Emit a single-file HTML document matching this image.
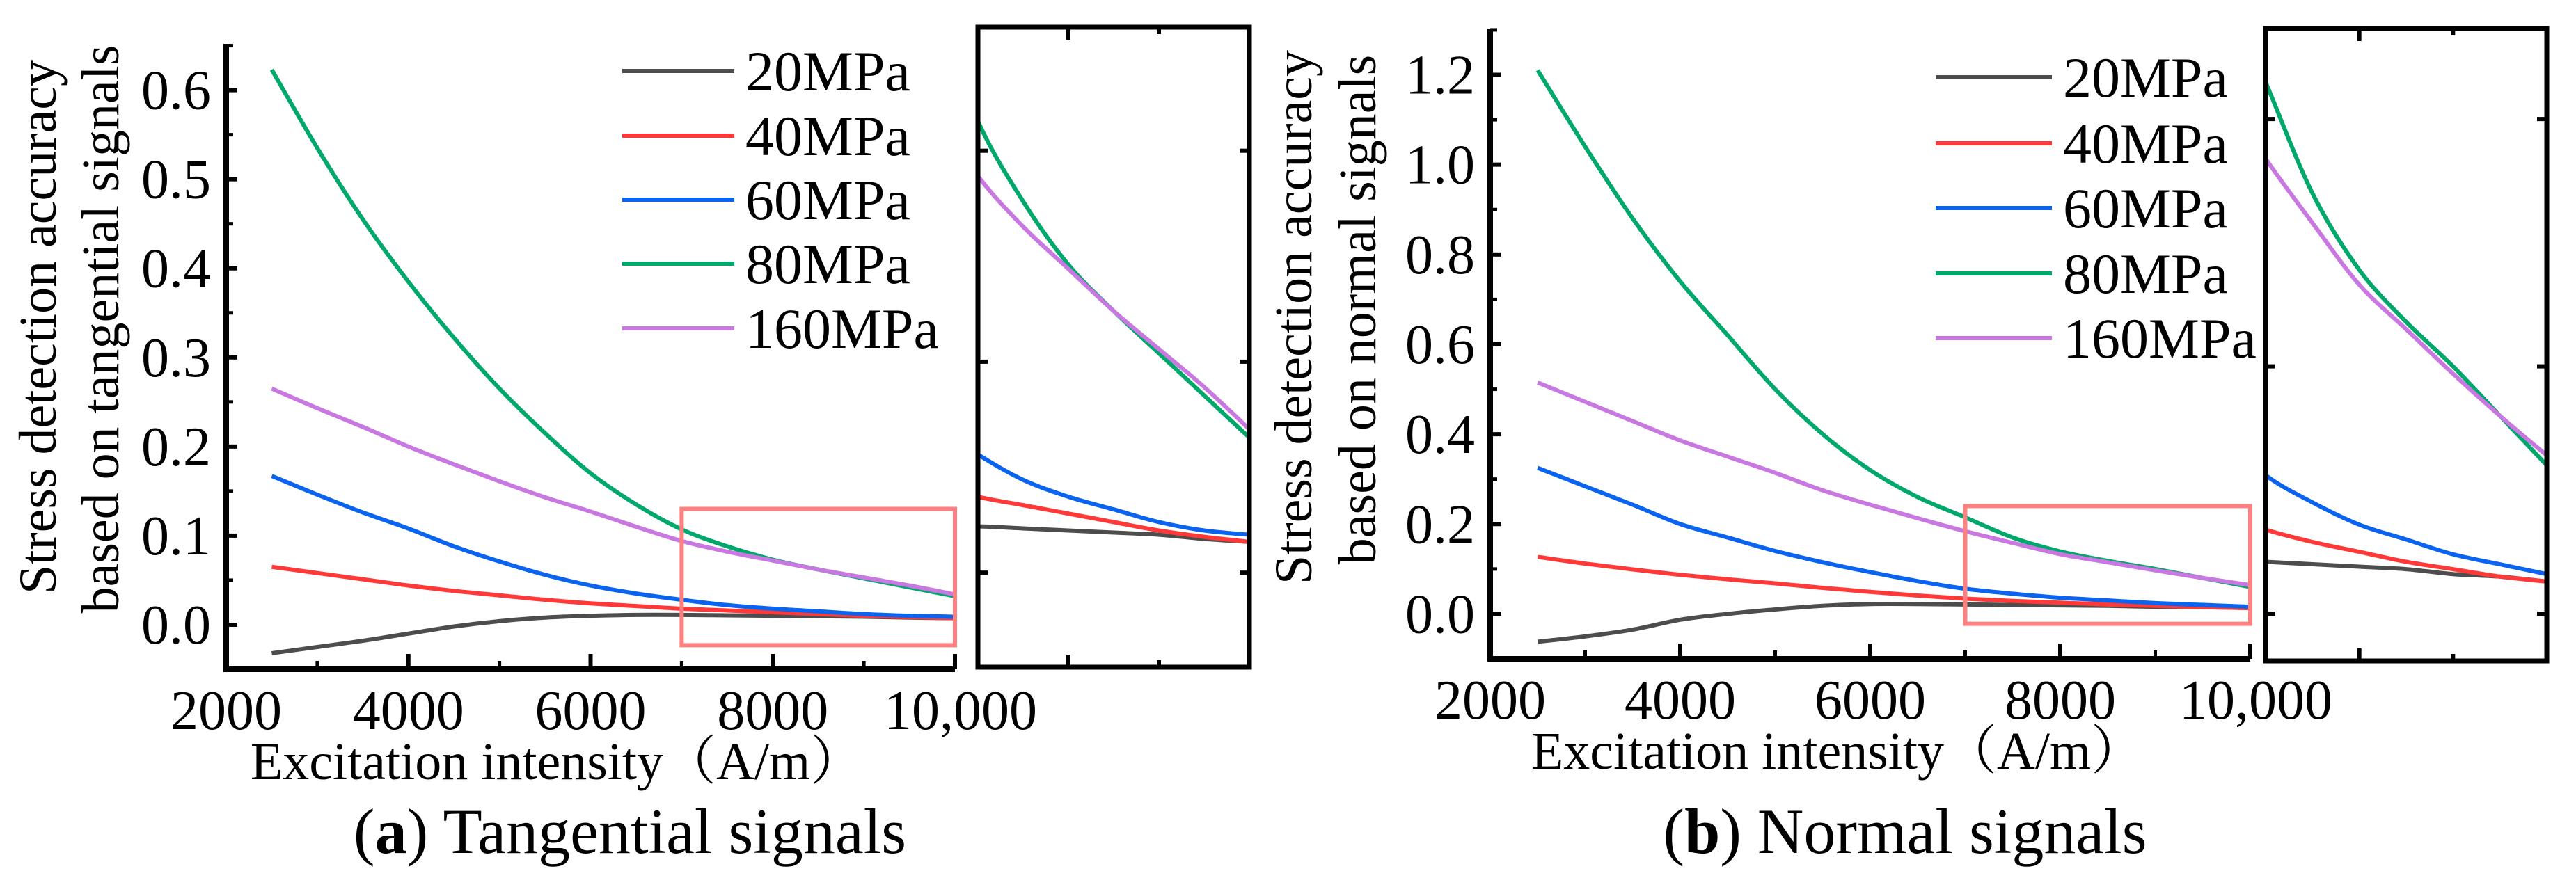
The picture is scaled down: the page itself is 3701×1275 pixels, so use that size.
<!DOCTYPE html>
<html><head><meta charset="utf-8"><style>
html,body{margin:0;padding:0;background:#fff}
svg{display:block}
text{font-family:"Liberation Serif","Noto Serif CJK SC",serif;fill:#000}
</style></head><body>
<svg id="fig" width="3701" height="1275" viewBox="0 0 3701 1275" xmlns="http://www.w3.org/2000/svg" font-family="'Liberation Serif','Noto Serif CJK SC',serif">
<defs>
<clipPath id="clipA"><rect x="1405" y="39" width="390" height="920"/></clipPath>
<clipPath id="clipB"><rect x="3255" y="41" width="404" height="909"/></clipPath>
</defs>
<g id="root"></g>
</svg>
<script>
const xValues = [2500,3000,3500,4000,4500,5000,5500,6000,6500,7000,7500,8000,8500,9000,9500,10000];
const seriesNames = ["20MPa","40MPa","60MPa","80MPa","160MPa"];
const seriesColors = ["#4d4d4d","#ff3838","#0a64f0","#00a86b","#c878e0"];
// Tangential (a)
const tan20 = [-0.032,-0.025,-0.018,-0.010,-0.002,0.004,0.008,0.010,0.011,0.011,0.0105,0.010,0.0095,0.009,0.008,0.0073];
const tan40 = [0.065,0.058,0.051,0.044,0.038,0.033,0.028,0.024,0.021,0.018,0.016,0.014,0.012,0.010,0.0085,0.0073];
const tan60 = [0.167,0.146,0.126,0.108,0.088,0.071,0.056,0.044,0.035,0.028,0.022,0.018,0.015,0.012,0.010,0.009];
const tan80 = [0.623,0.535,0.455,0.385,0.322,0.265,0.215,0.170,0.135,0.107,0.088,0.073,0.062,0.052,0.042,0.032];
const tan160 = [0.265,0.243,0.222,0.200,0.180,0.161,0.143,0.127,0.110,0.094,0.082,0.072,0.062,0.053,0.044,0.034];
// Normal (b)
const nor20 = [-0.062,-0.050,-0.035,-0.013,0.000,0.010,0.018,0.022,0.022,0.021,0.020,0.019,0.018,0.016,0.015,0.013];
const nor40 = [0.127,0.112,0.099,0.087,0.077,0.068,0.058,0.049,0.041,0.034,0.029,0.025,0.021,0.018,0.015,0.013];
const nor60 = [0.325,0.284,0.243,0.200,0.170,0.140,0.115,0.093,0.073,0.056,0.045,0.036,0.030,0.024,0.020,0.016];
const nor80 = [1.21,1.04,0.88,0.74,0.62,0.50,0.40,0.32,0.26,0.215,0.17,0.139,0.118,0.10,0.08,0.06];
const nor160 = [0.515,0.472,0.429,0.386,0.350,0.314,0.275,0.243,0.213,0.184,0.158,0.133,0.115,0.097,0.080,0.064];
const xTicks = [2000,4000,6000,8000,10000];
const xTickLabels = ["2000","4000","6000","8000","10,000"];
const yTicksA = [0,0.1,0.2,0.3,0.4,0.5,0.6];
const yTickLabelsA = ["0.0","0.1","0.2","0.3","0.4","0.5","0.6"];
const yTicksB = [0,0.2,0.4,0.6,0.8,1.0,1.2];
const yTickLabelsB = ["0.0","0.2","0.4","0.6","0.8","1.0","1.2"];

const NS="http://www.w3.org/2000/svg";
const FONT="'Liberation Serif','Noto Serif CJK SC',serif";
const root=document.getElementById('root');
function mk(tag,attrs,parent){const e=document.createElementNS(NS,tag);for(const k in attrs)e.setAttribute(k,attrs[k]);if(tag==='text')e.setAttribute('font-family',FONT);(parent||root).appendChild(e);return e;}
function lin(d0,d1,r0,r1){return v=>r0+(v-d0)*(r1-r0)/(d1-d0);}
function smoothPath(pts){let d=`M${pts[0][0]},${pts[0][1]}`;for(let i=0;i<pts.length-1;i++){const p0=pts[Math.max(0,i-1)],p1=pts[i],p2=pts[i+1],p3=pts[Math.min(pts.length-1,i+2)];const c1=[p1[0]+(p2[0]-p0[0])/6,p1[1]+(p2[1]-p0[1])/6],c2=[p2[0]-(p3[0]-p1[0])/6,p2[1]-(p3[1]-p1[1])/6];d+=` C${c1[0]},${c1[1]} ${c2[0]},${c2[1]} ${p2[0]},${p2[1]}`;}return d;}

function drawSeries(g,sx,sy,data,i,clip){
  const pts=xValues.map((x,k)=>[sx(x),sy(data[k])]);
  const p=mk('path',{d:smoothPath(pts),fill:'none',stroke:seriesColors[i],'stroke-width':6,'stroke-linejoin':'round'},g);
  if(clip)p.setAttribute('clip-path',clip);
  
  
}

function panel(c){
  const g=mk('g',{});
  
  
  const sx=lin(2000,10000,c.L,c.R), sy=lin(c.y0,c.y1,c.B,c.T);
  c.data.forEach((d,i)=>drawSeries(g,sx,sy,d,i,null));
  const zb=mk('rect',{x:sx(7000),y:sy(c.boxTop),width:sx(10000)-sx(7000),height:sy(c.boxBot)-sy(c.boxTop),fill:'none',stroke:'#ff8080','stroke-width':6},g);
  
  
  const ya=mk('line',{x1:c.L,y1:c.T,x2:c.L,y2:c.B+4,stroke:'#000','stroke-width':8},g);
  
  
  const xa=mk('line',{x1:c.L-4,y1:c.B,x2:c.R,y2:c.B,stroke:'#000','stroke-width':8},g);
  
  
  c.yTicks.forEach((v,k)=>{
    mk('line',{x1:c.L,y1:sy(v),x2:c.L+16,y2:sy(v),stroke:'#000','stroke-width':6},g);
    const t=mk('text',{x:c.L-22,y:sy(v)+27,'font-size':80,'text-anchor':'end'},g);
    t.textContent=c.yLabels[k];
    
    
  });
  for(let v=c.y0+c.minor;v<c.y1;v+=c.minor){mk('line',{x1:c.L,y1:sy(v),x2:c.L+10,y2:sy(v),stroke:'#000','stroke-width':5},g);}
  xTicks.forEach((v,k)=>{
    mk('line',{x1:sx(v),y1:c.B,x2:sx(v),y2:c.B-22,stroke:'#000','stroke-width':6},g);
    const t=mk('text',{x:sx(v)+(k==4?8:0),y:c.B+86,'font-size':80,'text-anchor':'middle'},g);
    t.textContent=xTickLabels[k];
    
    
  });
  for(let v=3000;v<10000;v+=2000){mk('line',{x1:sx(v),y1:c.B,x2:sx(v),y2:c.B-12,stroke:'#000','stroke-width':5},g);}
  seriesNames.forEach((n,i)=>{
    const y=c.legY[i];
    const l=mk('line',{x1:c.legX,y1:y,x2:c.legX+c.legW,y2:y,stroke:seriesColors[i],'stroke-width':6},g);
    
    
    const t=mk('text',{x:c.legX+c.legW+16,y:y+28,'font-size':82},g);
    t.textContent=n;
    
    
  });
  c.yTitle.forEach((s,k)=>{
    const t=mk('text',{x:0,y:0,'font-size':76,'text-anchor':'middle',transform:`translate(${c.yTitleX[k]},${c.yTitleY[k]}) rotate(-90)`},g);
    t.textContent=s;
    
    
  });
  const xt=mk('text',{x:c.xTitleX,y:c.B+158,'font-size':76,'text-anchor':'middle'},g);
  xt.textContent=c.xTitle;
  
  
  const cap=mk('text',{x:c.capX,y:1226,'font-size':92,'text-anchor':'middle'},g);
  
  
  const b=mk('tspan',{},cap);b.textContent='(';
  const b2=mk('tspan',{'font-weight':'bold'},cap);b2.textContent=c.capLetter;
  const b3=mk('tspan',{},cap);b3.textContent=') '+c.capText;

  const ig=mk('g',{});
  
  
  const I=c.inset, ix=lin(7000,10000,I.L,I.R), iy=lin(I.y0,I.y1,I.B,I.T);
  c.data.forEach((d,i)=>drawSeries(ig,ix,iy,d,i,I.clip));
  const fr=mk('rect',{x:I.L,y:I.T,width:I.R-I.L,height:I.B-I.T,fill:'none',stroke:'#000','stroke-width':7},ig);
  
  
  I.ticks.forEach(v=>{
    mk('line',{x1:I.L,y1:iy(v),x2:I.L+14,y2:iy(v),stroke:'#000','stroke-width':6},ig);
    mk('line',{x1:I.R,y1:iy(v),x2:I.R-14,y2:iy(v),stroke:'#000','stroke-width':6},ig);
  });
  [8000,9000].forEach((v,k)=>{
    mk('line',{x1:ix(v),y1:I.B,x2:ix(v),y2:I.B-(k?10:18),stroke:'#000','stroke-width':6},ig);
    mk('line',{x1:ix(v),y1:I.T,x2:ix(v),y2:I.T+(k?10:18),stroke:'#000','stroke-width':6},ig);
  });
}

panel({name:'panel-a-tangential',L:325,R:1372,T:63,B:962,y0:-0.05,y1:0.652,minor:0.05,
  data:[tan20,tan40,tan60,tan80,tan160],yTicks:yTicksA,yLabels:yTickLabelsA,
  boxTop:0.13,boxBot:-0.023,legX:894,legW:161,legY:[102,195,287,379,472],
  yTitle:['Stress detection accuracy','based on tangential signals'],yTitleX:[80,170],yTitleY:[470,473],
  xTitle:'Excitation intensity（A/m）',xTitleX:800,capX:905,capLetter:'a',capText:'Tangential signals',
  inset:{L:1405,R:1795,T:39,B:959,y0:-0.0224,y1:0.1293,ticks:[0,0.05,0.1],clip:'url(#clipA)'}});
panel({name:'panel-b-normal',L:2141,R:3233,T:41,B:947,y0:-0.1,y1:1.303,minor:0.1,
  data:[nor20,nor40,nor60,nor80,nor160],yTicks:yTicksB,yLabels:yTickLabelsB,
  boxTop:0.24,boxBot:-0.022,legX:2781,legW:167,legY:[111,206,299,393,486],
  yTitle:['Stress detection accuracy','based on normal signals'],yTitleX:[1884,1976],yTitleY:[456,445],
  xTitle:'Excitation intensity（A/m）',xTitleX:2640,capX:2737,capLetter:'b',capText:'Normal signals',
  inset:{L:3255,R:3659,T:41,B:950,y0:-0.0191,y1:0.2366,ticks:[0,0.1,0.2],clip:'url(#clipB)'}});
</script>
</body></html>
